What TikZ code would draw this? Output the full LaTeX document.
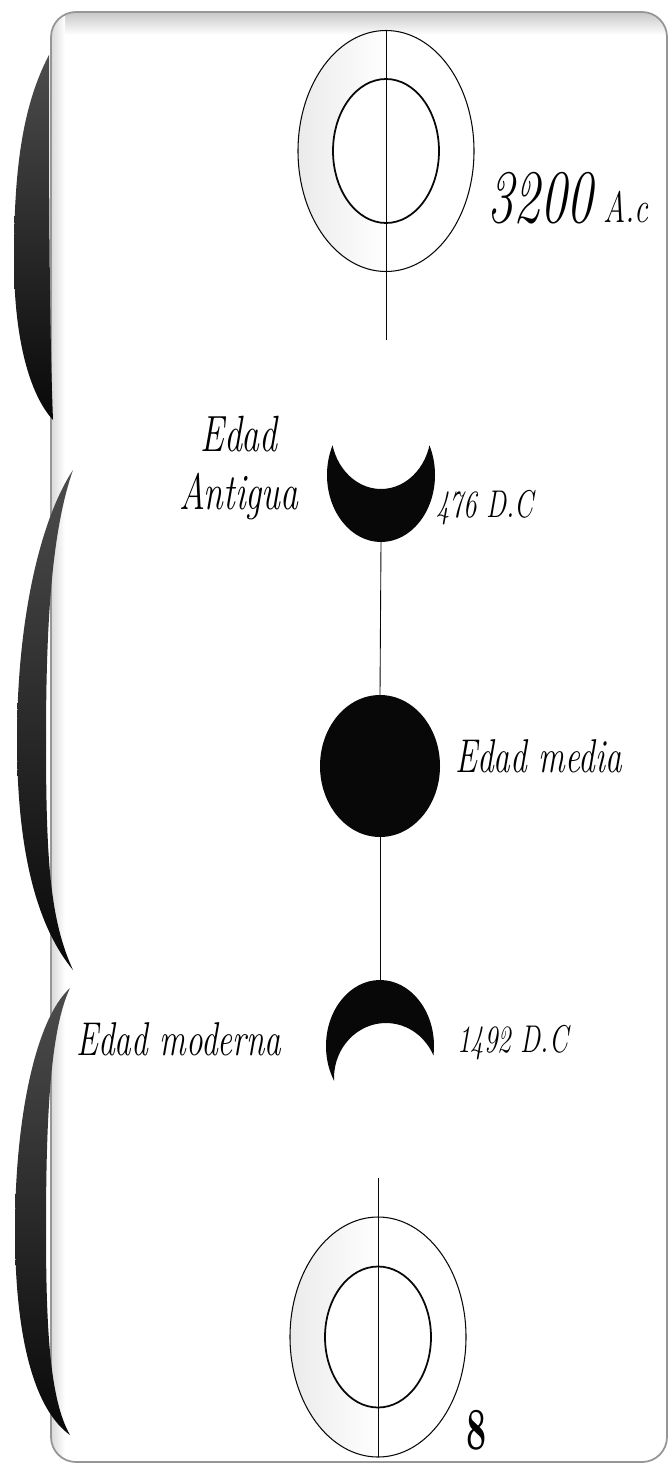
\documentclass[tikz,border=0pt]{standalone}
\usetikzlibrary{shapes.geometric, positioning}
\definecolor{tinta}{RGB}{8, 8, 8}
\definecolor{borde}{RGB}{150, 150, 150}
\newcommand{\estrecho}[1]{\scalebox{0.7}[1]{#1}}

\begin{document}
\begin{tikzpicture}[
  panel/.style={rounded corners=0.5cm},
  anillo/.style={ellipse, draw=tinta, inner sep=0pt, outer sep=0pt},
  fase/.style={ellipse, fill=tinta, inner sep=0pt, outer sep=0pt},
  etiqueta/.style={inner sep=0pt, anchor=base west},
  eje/.style={draw=tinta, line width=0.5pt},
  llave/.style={top color=black!70, bottom color=tinta}
]
  \useasboundingbox (0,0) rectangle (13.4,-29.42);

  \fill[panel, white] (1.02,-0.24) rectangle (13.34,-29.24);
  \begin{scope}
    \clip[panel] (1.02,-0.24) rectangle (13.34,-29.24);
    \shade[top color=black!22, bottom color=white] (1.02,-0.24) rectangle (13.34,-0.7);
    \shade[left color=black!15, right color=white] (1.02,-0.24) rectangle (1.3,-29.24);
  \end{scope}
  \draw[panel, borde, line width=1pt] (1.02,-0.24) rectangle (13.34,-29.24);

  \shade[llave] (0.98,-1.1) .. controls (0.4,-2.2) and (0.28,-3.6) .. (0.28,-5.2)
    .. controls (0.28,-6.8) and (0.6,-7.9) .. (1.06,-8.4)
    .. controls (0.98,-6.4) and (0.98,-3.2) .. (0.98,-1.1) -- cycle;
  \shade[llave] (1.46,-9.4) .. controls (0.8,-10.4) and (0.34,-12.4) .. (0.34,-14.8)
    .. controls (0.34,-17.2) and (0.8,-18.6) .. (1.46,-19.4)
    .. controls (1.0,-18.4) and (0.92,-17.2) .. (0.92,-14.8)
    .. controls (0.92,-12.4) and (1.04,-10.6) .. (1.46,-9.4) -- cycle;
  \shade[llave] (1.4,-19.76) .. controls (0.7,-20.4) and (0.3,-22.4) .. (0.3,-24.6)
    .. controls (0.3,-26.8) and (0.7,-28.2) .. (1.4,-28.7)
    .. controls (1.0,-28) and (0.92,-26.6) .. (0.92,-24.6)
    .. controls (0.92,-22.4) and (1.0,-20.6) .. (1.4,-19.76) -- cycle;

  \node[anillo, line width=0.6pt, minimum width=3.52cm, minimum height=4.82cm,
        left color=black!8, right color=white, middle color=white] (inicio) at (7.72,-3.02) {};
  \node[anillo, line width=1pt, fill=white, minimum width=2.12cm, minimum height=2.88cm] (inicio-in) at (inicio) {};
  \coordinate (inicio-fin) at (7.72,-6.8);
  \draw[eje] (inicio.north) -- (inicio-fin);

  \coordinate (antigua) at (7.62,-9.5);
  \coordinate (antigua-bot) at (7.62,-10.84);
  \begin{scope}[even odd rule]
    \clip (0,0) rectangle (13.4,-29.42)
      (7.62,-8.62) ellipse [x radius=1.0, y radius=1.16];
    \fill[tinta] (antigua) ellipse [x radius=1.08, y radius=1.34];
  \end{scope}

  \node[fase, minimum width=2.4cm, minimum height=2.84cm] (media) at (7.6,-15.32) {};

  \coordinate (moderna) at (7.6,-20.92);
  \coordinate (moderna-top) at (7.6,-19.6);
  \begin{scope}[even odd rule]
    \clip (0,0) rectangle (13.4,-29.42)
      (7.72,-21.56) ellipse [x radius=1.04, y radius=1.1];
    \fill[tinta] (moderna) ellipse [x radius=1.08, y radius=1.32];
  \end{scope}

  \draw[eje] (antigua-bot) -- (media.north);
  \draw[eje] (media.south) -- (moderna-top);

  \node[anillo, line width=0.6pt, minimum width=3.52cm, minimum height=4.8cm,
        left color=black!8, right color=white, middle color=white] (fin) at (7.56,-26.74) {};
  \node[anillo, line width=1pt, fill=white, minimum width=2.12cm, minimum height=2.82cm] (fin-in) at (fin) {};
  \coordinate (fin-top) at (7.56,-23.56);
  \draw[eje] (fin-top) -- (fin.south);

  \node[etiqueta, font=\itshape] (inicio-txt) at (9.74,-4.44)
    {\estrecho{\fontsize{43}{43}\selectfont 3200\fontsize{25}{25}\selectfont\,\,A.c}};
  \node[inner sep=0pt, align=center, font=\itshape\fontsize{29}{33}\selectfont] (antigua-txt) at (4.78,-9.36)
    {\estrecho{Edad}\\\estrecho{Antigua}};
  \node[etiqueta, font=\itshape\fontsize{22}{22}\selectfont] (antigua-fecha) at (8.72,-10.34) {\estrecho{476 D.C}};
  \node[etiqueta, font=\itshape\fontsize{27}{27}\selectfont] (media-txt) at (9.1,-15.44) {\estrecho{Edad media}};
  \node[etiqueta, font=\itshape\fontsize{27}{27}\selectfont] (moderna-txt) at (1.52,-21.1) {\estrecho{Edad moderna}};
  \node[etiqueta, font=\itshape\fontsize{22}{22}\selectfont] (moderna-fecha) at (9.14,-21.04) {\estrecho{1492 D.C}};
  \node[etiqueta, font=\bfseries\fontsize{34}{34}\selectfont] (fin-txt) at (9.32,-28.98) {\scalebox{0.6}[1]{8}};
\end{tikzpicture}
\end{document}
